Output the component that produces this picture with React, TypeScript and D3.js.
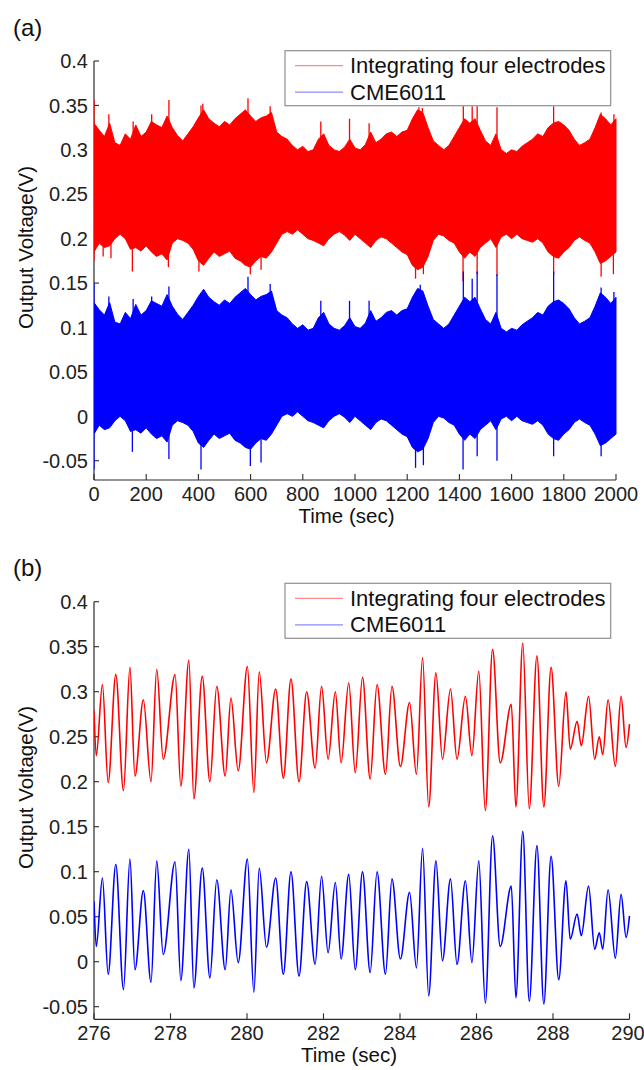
import React from "react";
import * as d3 from "d3";

// ---------- Panel (a): 0–2000 s, envelopes read every 20 s ----------
const envStep = 20;
const redHi = [0.330,0.322,0.315,0.330,0.308,0.305,0.318,0.312,0.328,0.315,
0.320,0.332,0.328,0.325,0.338,0.325,0.316,0.310,0.318,0.326,
0.336,0.345,0.335,0.330,0.326,0.332,0.328,0.335,0.340,0.345,
0.338,0.332,0.336,0.338,0.342,0.320,0.315,0.312,0.305,0.300,
0.304,0.298,0.300,0.312,0.318,0.305,0.300,0.298,0.303,0.312,
0.302,0.300,0.306,0.320,0.308,0.312,0.318,0.320,0.315,0.320,
0.322,0.335,0.345,0.342,0.325,0.310,0.305,0.300,0.305,0.315,
0.325,0.335,0.330,0.335,0.322,0.310,0.305,0.318,0.300,0.296,
0.300,0.298,0.304,0.308,0.312,0.318,0.315,0.325,0.330,0.332,
0.328,0.322,0.312,0.305,0.308,0.312,0.325,0.340,0.335,0.328,
0.335];
const redLo = [0.185,0.195,0.190,0.192,0.200,0.205,0.200,0.188,0.190,0.186,
0.192,0.185,0.180,0.183,0.176,0.195,0.200,0.198,0.195,0.188,
0.175,0.170,0.178,0.185,0.180,0.183,0.186,0.178,0.175,0.170,
0.168,0.175,0.180,0.178,0.185,0.195,0.205,0.208,0.205,0.210,
0.205,0.200,0.198,0.195,0.192,0.200,0.205,0.208,0.204,0.198,
0.205,0.200,0.195,0.190,0.198,0.202,0.200,0.195,0.190,0.185,
0.182,0.170,0.165,0.168,0.180,0.198,0.205,0.203,0.198,0.195,
0.185,0.178,0.185,0.180,0.190,0.195,0.200,0.190,0.202,0.205,
0.200,0.205,0.200,0.198,0.196,0.200,0.195,0.185,0.180,0.178,
0.185,0.190,0.198,0.202,0.198,0.195,0.185,0.172,0.175,0.180,
0.185];
const blueHi = [0.128,0.120,0.114,0.128,0.106,0.104,0.117,0.110,0.126,0.114,
0.119,0.130,0.127,0.124,0.137,0.124,0.115,0.109,0.117,0.125,
0.135,0.143,0.134,0.129,0.125,0.131,0.127,0.134,0.139,0.144,
0.137,0.131,0.135,0.137,0.141,0.119,0.114,0.111,0.104,0.099,
0.103,0.097,0.099,0.111,0.117,0.104,0.099,0.097,0.102,0.111,
0.101,0.099,0.105,0.119,0.107,0.111,0.117,0.119,0.114,0.119,
0.121,0.134,0.144,0.141,0.124,0.109,0.104,0.099,0.104,0.114,
0.124,0.134,0.129,0.134,0.121,0.109,0.104,0.117,0.099,0.095,
0.099,0.097,0.103,0.107,0.111,0.117,0.114,0.124,0.129,0.131,
0.127,0.121,0.111,0.104,0.107,0.111,0.124,0.139,0.134,0.127,
0.134];
const blueLo = [-0.020,-0.010,-0.015,-0.013,-0.005,0.000,-0.005,-0.017,-0.015,-0.019,
-0.013,-0.020,-0.025,-0.022,-0.029,-0.010,-0.005,-0.007,-0.010,-0.017,
-0.030,-0.035,-0.027,-0.020,-0.025,-0.022,-0.019,-0.027,-0.030,-0.035,
-0.037,-0.030,-0.025,-0.027,-0.020,-0.010,0.000,0.003,0.000,0.005,
0.000,-0.005,-0.007,-0.010,-0.013,-0.005,0.000,0.003,-0.001,-0.007,
0.000,-0.005,-0.010,-0.015,-0.007,-0.003,-0.005,-0.010,-0.015,-0.020,
-0.023,-0.035,-0.040,-0.037,-0.025,-0.007,0.000,-0.002,-0.007,-0.010,
-0.020,-0.027,-0.020,-0.025,-0.015,-0.010,-0.005,-0.015,-0.003,0.000,
-0.005,0.000,-0.005,-0.007,-0.009,-0.005,-0.010,-0.020,-0.025,-0.027,
-0.020,-0.015,-0.007,-0.003,-0.007,-0.010,-0.020,-0.033,-0.030,-0.025,
-0.020];

// isolated spikes [time, tip value]
const redSpikesUp = [[0,0.356],[57,0.340],[150,0.332],[221,0.340],[287,0.356],[410,0.350],[417,0.352],[590,0.358],[675,0.349],[869,0.332],[979,0.335],[1054,0.330],[1245,0.348],[1258,0.347],[1415,0.349],[1449,0.349],[1468,0.349],[1544,0.348],[1761,0.349],[1943,0.342],[1992,0.340]];
const redSpikesDown = [[0,0.175],[35,0.180],[65,0.178],[147,0.163],[285,0.168],[402,0.163],[599,0.160],[640,0.165],[1232,0.155],[1262,0.160],[1414,0.152],[1468,0.160],[1544,0.158],[1761,0.160],[1943,0.157],[1990,0.160]];
const blueSpikesUp = [[0,0.150],[57,0.135],[150,0.132],[221,0.135],[287,0.146],[410,0.138],[590,0.157],[675,0.149],[869,0.130],[979,0.130],[1054,0.130],[1250,0.148],[1415,0.163],[1449,0.155],[1468,0.163],[1544,0.160],[1761,0.163],[1943,0.145],[1992,0.140]];
const blueSpikesDown = [[0,-0.060],[147,-0.040],[287,-0.048],[410,-0.060],[599,-0.056],[640,-0.052],[1232,-0.058],[1262,-0.055],[1414,-0.060],[1468,-0.045],[1544,-0.050],[1761,-0.045],[1943,-0.045]];

// ---------- Panel (b): 276–290 s, peaks and troughs ----------
const bTimes = [276.00,276.06,276.22,276.37,276.57,276.77,276.94,277.07,277.29,277.49,
277.64,277.81,278.12,278.27,278.48,278.61,278.83,279.03,279.21,279.43,
279.58,279.77,280.01,280.18,280.32,280.51,280.75,280.95,281.15,281.36,
281.56,281.78,281.95,282.12,282.31,282.46,282.66,282.83,283.02,283.22,
283.40,283.62,283.79,284.01,284.25,284.43,284.59,284.75,284.94,285.11,
285.32,285.49,285.71,285.88,286.06,286.23,286.42,286.62,286.91,287.03,
287.21,287.38,287.58,287.76,287.95,288.15,288.34,288.45,288.63,288.74,
288.93,289.09,289.21,289.30,289.44,289.63,289.78,289.91,290.00];
const bRed = [0.279,0.229,0.308,0.199,0.319,0.190,0.327,0.206,0.291,0.200,
0.325,0.225,0.319,0.195,0.335,0.181,0.317,0.200,0.306,0.206,
0.293,0.212,0.328,0.188,0.322,0.221,0.303,0.204,0.314,0.200,
0.300,0.215,0.306,0.225,0.300,0.221,0.310,0.210,0.316,0.203,
0.308,0.208,0.306,0.217,0.288,0.208,0.338,0.172,0.321,0.225,
0.303,0.225,0.295,0.229,0.323,0.168,0.347,0.221,0.286,0.172,
0.354,0.170,0.340,0.172,0.327,0.195,0.300,0.236,0.267,0.240,
0.295,0.225,0.250,0.230,0.291,0.217,0.295,0.238,0.264];
const bBlue = [0.067,0.017,0.093,-0.014,0.108,-0.031,0.114,-0.009,0.079,-0.023,
0.112,0.008,0.111,-0.021,0.125,-0.029,0.104,-0.018,0.091,-0.009,
0.080,-0.001,0.114,-0.034,0.104,0.016,0.093,-0.014,0.100,-0.016,
0.089,-0.003,0.095,0.010,0.088,0.003,0.097,-0.009,0.100,-0.012,
0.100,-0.014,0.092,0.003,0.077,-0.007,0.126,-0.038,0.112,0.001,
0.092,-0.003,0.090,-0.001,0.112,-0.046,0.140,0.017,0.084,-0.040,
0.145,-0.044,0.129,-0.047,0.117,-0.020,0.090,0.025,0.053,0.029,
0.084,0.014,0.032,0.014,0.080,0.004,0.075,0.027,0.051];

// ---------- axes ticks and labels ----------
const yTickVals = [-0.05,0,0.05,0.1,0.15,0.2,0.25,0.3,0.35,0.4];
const xTicksA = [0,200,400,600,800,1000,1200,1400,1600,1800,2000];
const xTicksB = [276,278,280,282,284,286,288,290];
const seriesNames = ["Integrating four electrodes", "CME6011"];
const seriesColors = ["#ff0000", "#0000ff"];
const legendColors = ["#ff8a8a", "#8a8aff"];

const tickFont = "'Liberation Sans Narrow', 'Liberation Sans', Arial, sans-serif";
const labelFont = "'Liberation Sans', Arial, sans-serif";
const fmt = (v: number) => String(+v.toFixed(2));

type PanelProps = {
  tag: string;
  tagY: number;
  x: d3.ScaleLinear<number, number>;
  y: d3.ScaleLinear<number, number>;
  xTicks: number[];
  legendTop: number;
  ylabelCenter: number;
  xlabelX: number;
  id: string;
  children: React.ReactNode;
};

function Panel({ tag, tagY, x, y, xTicks, legendTop, ylabelCenter, xlabelX, id, children }: PanelProps) {
  const [x0, x1] = x.range();
  const [yb, yt] = y.range();
  const axisColor = "#2b2b2b";
  return (
    <g>
      <text x={13} y={tagY} fontFamily={labelFont} fontSize={24} fill="#111">{tag}</text>
      {/* axes */}
      <line x1={x0} x2={x0} y1={yt} y2={yb} stroke={axisColor} strokeWidth={1.2} />
      <line x1={x0} x2={x1} y1={yb} y2={yb} stroke={axisColor} strokeWidth={1.2} />
      {yTickVals.map((v) => (
        <g key={"y" + v}>
          <line x1={x0} x2={x0 + 5} y1={y(v)} y2={y(v)} stroke={axisColor} strokeWidth={1.1} />
          <text x={x0 - 6} y={y(v)} dy="0.36em" textAnchor="end" fontFamily={tickFont} fontSize={20} fill="#222">{fmt(v)}</text>
        </g>
      ))}
      {xTicks.map((v) => {
        const lx = Math.min(x(v), 644 - 16);
        return (
          <g key={"x" + v}>
            <line x1={x(v)} x2={x(v)} y1={yb} y2={yb - 6} stroke={axisColor} strokeWidth={1.1} />
            <text x={lx} y={yb + 21} textAnchor="middle" fontFamily={tickFont} fontSize={20} fill="#222">{v}</text>
          </g>
        );
      })}
      <clipPath id={id}>
        <rect x={x0} y={yt - 2} width={x1 - x0 + 2} height={yb - yt + 2} />
      </clipPath>
      <g clipPath={`url(#${id})`}>{children}</g>
      {/* legend */}
      <rect x={285} y={legendTop} width={325.7} height={55} fill="#fff" stroke="#8f8f8f" strokeWidth={1.2} />
      {seriesNames.map((n, i) => (
        <g key={n}>
          <line x1={295} x2={343} y1={legendTop + 15 + i * 26.5} y2={legendTop + 15 + i * 26.5} stroke={legendColors[i]} strokeWidth={1.3} />
          <text x={350} y={legendTop + 22.5 + i * 26.5} fontFamily={labelFont} fontSize={22} fill="#111">{n}</text>
        </g>
      ))}
      <text x={xlabelX} y={yb + 42.5} textAnchor="middle" fontFamily={labelFont} fontSize={20.5} fill="#111">Time (sec)</text>
      <text transform={`translate(33,${ylabelCenter}) rotate(-90)`} textAnchor="middle" fontFamily={labelFont} fontSize={20.5} fill="#111">Output Voltage(V)</text>
    </g>
  );
}

export default function App() {
  const xA = d3.scaleLinear().domain([0, 2000]).range([94, 616]);
  const yA = d3.scaleLinear().domain([-0.0717, 0.4]).range([480, 61]);
  const xB = d3.scaleLinear().domain([276, 290]).range([94, 629.5]);
  const yB = d3.scaleLinear().domain([-0.064, 0.4]).range([1019.3, 601.7]);

  const band = (hi: number[], lo: number[]) =>
    d3.area<number>()
      .x((_, i) => xA(i * envStep))
      .y0((_, i) => yA(lo[i]))
      .y1((d) => yA(d))(hi) || "";

  const spikes = (arr: number[][], base: number, color: string, k: string) =>
    arr.map(([t, v], i) => (
      <line key={k + i} x1={xA(t)} x2={xA(t)} y1={yA(base)} y2={yA(v)} stroke={color} strokeWidth={1.3} />
    ));

  const lineB = (vals: number[]) =>
    d3.line<number>()
      .x((_, i) => xB(bTimes[i]))
      .y((d) => yB(d))
      .curve(d3.curveMonotoneX)(vals) || "";

  return (
    <svg width={644} height={1070} style={{ position: "absolute", left: 0, top: 0, background: "#fff" }}>
      <rect width={644} height={1070} fill="#fff" />
      <Panel tag="(a)" tagY={36} x={xA} y={yA} xTicks={xTicksA} legendTop={50.7} ylabelCenter={247.5} xlabelX={346.5} id="clipA">
        <path d={band(redHi, redLo)} fill={seriesColors[0]} stroke={seriesColors[0]} strokeWidth={1} />
        {spikes(redSpikesUp, 0.25, seriesColors[0], "ru")}
        {spikes(redSpikesDown, 0.25, seriesColors[0], "rd")}
        <path d={band(blueHi, blueLo)} fill={seriesColors[1]} stroke={seriesColors[1]} strokeWidth={1} />
        {spikes(blueSpikesUp, 0.05, seriesColors[1], "bu")}
        {spikes(blueSpikesDown, 0.05, seriesColors[1], "bd")}
      </Panel>
      <Panel tag="(b)" tagY={576} x={xB} y={yB} xTicks={xTicksB} legendTop={583.3} ylabelCenter={787.5} xlabelX={349} id="clipB">
        <path d={lineB(bRed)} fill="none" stroke={seriesColors[0]} strokeWidth={1.6} />
        <path d={lineB(bBlue)} fill="none" stroke={seriesColors[1]} strokeWidth={1.6} />
      </Panel>
    </svg>
  );
}
